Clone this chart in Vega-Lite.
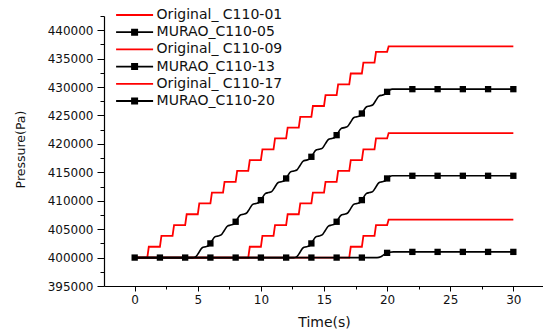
{
  "$schema": "https://vega.github.io/schema/vega-lite/v6.json",
  "width": 439,
  "height": 270,
  "autosize": "none",
  "padding": {"left": 104, "top": 16, "right": 0, "bottom": 45},
  "background": "white",
  "config": {
    "view": {"stroke": null},
    "font": "DejaVu Sans",
    "axis": {"labelFont": "DejaVu Sans", "titleFont": "DejaVu Sans", "labelColor": "#111", "titleColor": "#111", "domainColor": "#000", "tickColor": "#000", "grid": false, "labelFlush": false, "labelOverlap": false}
  },
  "datasets": {
    "lines": [
      {"s": "Original_ C110-01", "t": 0, "p": 400000}, {"s": "Original_ C110-01", "t": 1, "p": 400000}, {"s": "Original_ C110-01", "t": 1.12, "p": 401905}, {"s": "Original_ C110-01", "t": 2, "p": 401905}, {"s": "Original_ C110-01", "t": 2.12, "p": 403810}, {"s": "Original_ C110-01", "t": 3, "p": 403810}, {"s": "Original_ C110-01", "t": 3.12, "p": 405715}, {"s": "Original_ C110-01", "t": 4, "p": 405715}, {"s": "Original_ C110-01", "t": 4.12, "p": 407620}, {"s": "Original_ C110-01", "t": 5, "p": 407620}, {"s": "Original_ C110-01", "t": 5.12, "p": 409525}, {"s": "Original_ C110-01", "t": 6, "p": 409525}, {"s": "Original_ C110-01", "t": 6.12, "p": 411430}, {"s": "Original_ C110-01", "t": 7, "p": 411430}, {"s": "Original_ C110-01", "t": 7.12, "p": 413335}, {"s": "Original_ C110-01", "t": 8, "p": 413335}, {"s": "Original_ C110-01", "t": 8.12, "p": 415240}, {"s": "Original_ C110-01", "t": 9, "p": 415240}, {"s": "Original_ C110-01", "t": 9.12, "p": 417145}, {"s": "Original_ C110-01", "t": 10, "p": 417145}, {"s": "Original_ C110-01", "t": 10.12, "p": 419050}, {"s": "Original_ C110-01", "t": 11, "p": 419050}, {"s": "Original_ C110-01", "t": 11.12, "p": 420955}, {"s": "Original_ C110-01", "t": 12, "p": 420955}, {"s": "Original_ C110-01", "t": 12.12, "p": 422860}, {"s": "Original_ C110-01", "t": 13, "p": 422860}, {"s": "Original_ C110-01", "t": 13.12, "p": 424765}, {"s": "Original_ C110-01", "t": 14, "p": 424765}, {"s": "Original_ C110-01", "t": 14.12, "p": 426670}, {"s": "Original_ C110-01", "t": 15, "p": 426670}, {"s": "Original_ C110-01", "t": 15.12, "p": 428575}, {"s": "Original_ C110-01", "t": 16, "p": 428575}, {"s": "Original_ C110-01", "t": 16.12, "p": 430480}, {"s": "Original_ C110-01", "t": 17, "p": 430480}, {"s": "Original_ C110-01", "t": 17.12, "p": 432385}, {"s": "Original_ C110-01", "t": 18, "p": 432385}, {"s": "Original_ C110-01", "t": 18.12, "p": 434290}, {"s": "Original_ C110-01", "t": 19, "p": 434290}, {"s": "Original_ C110-01", "t": 19.12, "p": 436195}, {"s": "Original_ C110-01", "t": 20, "p": 436195}, {"s": "Original_ C110-01", "t": 20.12, "p": 437145}, {"s": "Original_ C110-01", "t": 30, "p": 437145},
      {"s": "Original_ C110-09", "t": 0, "p": 400000}, {"s": "Original_ C110-09", "t": 9, "p": 400000}, {"s": "Original_ C110-09", "t": 9.12, "p": 401905}, {"s": "Original_ C110-09", "t": 10, "p": 401905}, {"s": "Original_ C110-09", "t": 10.12, "p": 403810}, {"s": "Original_ C110-09", "t": 11, "p": 403810}, {"s": "Original_ C110-09", "t": 11.12, "p": 405715}, {"s": "Original_ C110-09", "t": 12, "p": 405715}, {"s": "Original_ C110-09", "t": 12.12, "p": 407620}, {"s": "Original_ C110-09", "t": 13, "p": 407620}, {"s": "Original_ C110-09", "t": 13.12, "p": 409525}, {"s": "Original_ C110-09", "t": 14, "p": 409525}, {"s": "Original_ C110-09", "t": 14.12, "p": 411430}, {"s": "Original_ C110-09", "t": 15, "p": 411430}, {"s": "Original_ C110-09", "t": 15.12, "p": 413335}, {"s": "Original_ C110-09", "t": 16, "p": 413335}, {"s": "Original_ C110-09", "t": 16.12, "p": 415240}, {"s": "Original_ C110-09", "t": 17, "p": 415240}, {"s": "Original_ C110-09", "t": 17.12, "p": 417145}, {"s": "Original_ C110-09", "t": 18, "p": 417145}, {"s": "Original_ C110-09", "t": 18.12, "p": 419050}, {"s": "Original_ C110-09", "t": 19, "p": 419050}, {"s": "Original_ C110-09", "t": 19.12, "p": 420955}, {"s": "Original_ C110-09", "t": 20, "p": 420955}, {"s": "Original_ C110-09", "t": 20.12, "p": 421905}, {"s": "Original_ C110-09", "t": 30, "p": 421905},
      {"s": "Original_ C110-17", "t": 0, "p": 400000}, {"s": "Original_ C110-17", "t": 17, "p": 400000}, {"s": "Original_ C110-17", "t": 17.12, "p": 401905}, {"s": "Original_ C110-17", "t": 18, "p": 401905}, {"s": "Original_ C110-17", "t": 18.12, "p": 403810}, {"s": "Original_ C110-17", "t": 19, "p": 403810}, {"s": "Original_ C110-17", "t": 19.12, "p": 405715}, {"s": "Original_ C110-17", "t": 20, "p": 405715}, {"s": "Original_ C110-17", "t": 20.12, "p": 406665}, {"s": "Original_ C110-17", "t": 30, "p": 406665},
      {"s": "MURAO_C110-05", "t": 0, "p": 400000}, {"s": "MURAO_C110-05", "t": 4.6, "p": 400000}, {"s": "MURAO_C110-05", "t": 4.85, "p": 400173}, {"s": "MURAO_C110-05", "t": 5.1, "p": 400953}, {"s": "MURAO_C110-05", "t": 5.35, "p": 401732},
      {"s": "MURAO_C110-05", "t": 5.6, "p": 401905}, {"s": "MURAO_C110-05", "t": 5.85, "p": 402078}, {"s": "MURAO_C110-05", "t": 6.1, "p": 402858}, {"s": "MURAO_C110-05", "t": 6.35, "p": 403637},
      {"s": "MURAO_C110-05", "t": 6.6, "p": 403810}, {"s": "MURAO_C110-05", "t": 6.85, "p": 403983}, {"s": "MURAO_C110-05", "t": 7.1, "p": 404763}, {"s": "MURAO_C110-05", "t": 7.35, "p": 405542},
      {"s": "MURAO_C110-05", "t": 7.6, "p": 405715}, {"s": "MURAO_C110-05", "t": 7.85, "p": 405888}, {"s": "MURAO_C110-05", "t": 8.1, "p": 406668}, {"s": "MURAO_C110-05", "t": 8.35, "p": 407447},
      {"s": "MURAO_C110-05", "t": 8.6, "p": 407620}, {"s": "MURAO_C110-05", "t": 8.85, "p": 407793}, {"s": "MURAO_C110-05", "t": 9.1, "p": 408573}, {"s": "MURAO_C110-05", "t": 9.35, "p": 409352},
      {"s": "MURAO_C110-05", "t": 9.6, "p": 409525}, {"s": "MURAO_C110-05", "t": 9.85, "p": 409698}, {"s": "MURAO_C110-05", "t": 10.1, "p": 410478}, {"s": "MURAO_C110-05", "t": 10.35, "p": 411257},
      {"s": "MURAO_C110-05", "t": 10.6, "p": 411430}, {"s": "MURAO_C110-05", "t": 10.85, "p": 411603}, {"s": "MURAO_C110-05", "t": 11.1, "p": 412383}, {"s": "MURAO_C110-05", "t": 11.35, "p": 413162},
      {"s": "MURAO_C110-05", "t": 11.6, "p": 413335}, {"s": "MURAO_C110-05", "t": 11.85, "p": 413508}, {"s": "MURAO_C110-05", "t": 12.1, "p": 414288}, {"s": "MURAO_C110-05", "t": 12.35, "p": 415067},
      {"s": "MURAO_C110-05", "t": 12.6, "p": 415240}, {"s": "MURAO_C110-05", "t": 12.85, "p": 415413}, {"s": "MURAO_C110-05", "t": 13.1, "p": 416193}, {"s": "MURAO_C110-05", "t": 13.35, "p": 416972},
      {"s": "MURAO_C110-05", "t": 13.6, "p": 417145}, {"s": "MURAO_C110-05", "t": 13.85, "p": 417318}, {"s": "MURAO_C110-05", "t": 14.1, "p": 418098}, {"s": "MURAO_C110-05", "t": 14.35, "p": 418877},
      {"s": "MURAO_C110-05", "t": 14.6, "p": 419050}, {"s": "MURAO_C110-05", "t": 14.85, "p": 419223}, {"s": "MURAO_C110-05", "t": 15.1, "p": 420003}, {"s": "MURAO_C110-05", "t": 15.35, "p": 420782},
      {"s": "MURAO_C110-05", "t": 15.6, "p": 420955}, {"s": "MURAO_C110-05", "t": 15.85, "p": 421128}, {"s": "MURAO_C110-05", "t": 16.1, "p": 421908}, {"s": "MURAO_C110-05", "t": 16.35, "p": 422687},
      {"s": "MURAO_C110-05", "t": 16.6, "p": 422860}, {"s": "MURAO_C110-05", "t": 16.85, "p": 423033}, {"s": "MURAO_C110-05", "t": 17.1, "p": 423813}, {"s": "MURAO_C110-05", "t": 17.35, "p": 424592},
      {"s": "MURAO_C110-05", "t": 17.6, "p": 424765}, {"s": "MURAO_C110-05", "t": 17.85, "p": 424938}, {"s": "MURAO_C110-05", "t": 18.1, "p": 425718}, {"s": "MURAO_C110-05", "t": 18.35, "p": 426497},
      {"s": "MURAO_C110-05", "t": 18.6, "p": 426670}, {"s": "MURAO_C110-05", "t": 18.85, "p": 426843}, {"s": "MURAO_C110-05", "t": 19.1, "p": 427623}, {"s": "MURAO_C110-05", "t": 19.35, "p": 428402},
      {"s": "MURAO_C110-05", "t": 19.6, "p": 428575}, {"s": "MURAO_C110-05", "t": 19.85, "p": 428748}, {"s": "MURAO_C110-05", "t": 20.0, "p": 429158}, {"s": "MURAO_C110-05", "t": 20.2, "p": 429480}, {"s": "MURAO_C110-05", "t": 20.4, "p": 429630}, {"s": "MURAO_C110-05", "t": 30, "p": 429630},
      {"s": "MURAO_C110-13", "t": 0, "p": 400000}, {"s": "MURAO_C110-13", "t": 12.6, "p": 400000}, {"s": "MURAO_C110-13", "t": 12.85, "p": 400173}, {"s": "MURAO_C110-13", "t": 13.1, "p": 400953}, {"s": "MURAO_C110-13", "t": 13.35, "p": 401732},
      {"s": "MURAO_C110-13", "t": 13.6, "p": 401905}, {"s": "MURAO_C110-13", "t": 13.85, "p": 402078}, {"s": "MURAO_C110-13", "t": 14.1, "p": 402858}, {"s": "MURAO_C110-13", "t": 14.35, "p": 403637},
      {"s": "MURAO_C110-13", "t": 14.6, "p": 403810}, {"s": "MURAO_C110-13", "t": 14.85, "p": 403983}, {"s": "MURAO_C110-13", "t": 15.1, "p": 404763}, {"s": "MURAO_C110-13", "t": 15.35, "p": 405542},
      {"s": "MURAO_C110-13", "t": 15.6, "p": 405715}, {"s": "MURAO_C110-13", "t": 15.85, "p": 405888}, {"s": "MURAO_C110-13", "t": 16.1, "p": 406668}, {"s": "MURAO_C110-13", "t": 16.35, "p": 407447},
      {"s": "MURAO_C110-13", "t": 16.6, "p": 407620}, {"s": "MURAO_C110-13", "t": 16.85, "p": 407793}, {"s": "MURAO_C110-13", "t": 17.1, "p": 408573}, {"s": "MURAO_C110-13", "t": 17.35, "p": 409352},
      {"s": "MURAO_C110-13", "t": 17.6, "p": 409525}, {"s": "MURAO_C110-13", "t": 17.85, "p": 409698}, {"s": "MURAO_C110-13", "t": 18.1, "p": 410478}, {"s": "MURAO_C110-13", "t": 18.35, "p": 411257},
      {"s": "MURAO_C110-13", "t": 18.6, "p": 411430}, {"s": "MURAO_C110-13", "t": 18.85, "p": 411603}, {"s": "MURAO_C110-13", "t": 19.1, "p": 412383}, {"s": "MURAO_C110-13", "t": 19.35, "p": 413162},
      {"s": "MURAO_C110-13", "t": 19.6, "p": 413335}, {"s": "MURAO_C110-13", "t": 19.85, "p": 413508}, {"s": "MURAO_C110-13", "t": 20.0, "p": 413919}, {"s": "MURAO_C110-13", "t": 20.2, "p": 414250}, {"s": "MURAO_C110-13", "t": 20.4, "p": 414390}, {"s": "MURAO_C110-13", "t": 30, "p": 414390},
      {"s": "MURAO_C110-20", "t": 0, "p": 400000}, {"s": "MURAO_C110-20", "t": 19.2, "p": 400000}, {"s": "MURAO_C110-20", "t": 19.5, "p": 400150}, {"s": "MURAO_C110-20", "t": 19.8, "p": 400600}, {"s": "MURAO_C110-20", "t": 20.0, "p": 400830}, {"s": "MURAO_C110-20", "t": 20.2, "p": 400950}, {"s": "MURAO_C110-20", "t": 20.5, "p": 401000}, {"s": "MURAO_C110-20", "t": 30, "p": 401000}
    ],
    "markers": [
      {"s": "MURAO_C110-20", "t": 0, "p": 400000}, {"s": "MURAO_C110-20", "t": 2, "p": 400000}, {"s": "MURAO_C110-20", "t": 4, "p": 400000}, {"s": "MURAO_C110-20", "t": 6, "p": 400000}, {"s": "MURAO_C110-20", "t": 8, "p": 400000}, {"s": "MURAO_C110-20", "t": 10, "p": 400000}, {"s": "MURAO_C110-20", "t": 12, "p": 400000}, {"s": "MURAO_C110-20", "t": 14, "p": 400000}, {"s": "MURAO_C110-20", "t": 16, "p": 400000}, {"s": "MURAO_C110-20", "t": 18, "p": 400000}, {"s": "MURAO_C110-20", "t": 20, "p": 400830}, {"s": "MURAO_C110-20", "t": 22, "p": 401000}, {"s": "MURAO_C110-20", "t": 24, "p": 401000}, {"s": "MURAO_C110-20", "t": 26, "p": 401000}, {"s": "MURAO_C110-20", "t": 28, "p": 401000}, {"s": "MURAO_C110-20", "t": 30, "p": 401000},
      {"s": "MURAO_C110-13", "t": 14, "p": 402489}, {"s": "MURAO_C110-13", "t": 16, "p": 406299}, {"s": "MURAO_C110-13", "t": 18, "p": 410109}, {"s": "MURAO_C110-13", "t": 20, "p": 413919}, {"s": "MURAO_C110-13", "t": 22, "p": 414390}, {"s": "MURAO_C110-13", "t": 24, "p": 414390}, {"s": "MURAO_C110-13", "t": 26, "p": 414390}, {"s": "MURAO_C110-13", "t": 28, "p": 414390}, {"s": "MURAO_C110-13", "t": 30, "p": 414390},
      {"s": "MURAO_C110-05", "t": 6, "p": 402489}, {"s": "MURAO_C110-05", "t": 8, "p": 406299}, {"s": "MURAO_C110-05", "t": 10, "p": 410109}, {"s": "MURAO_C110-05", "t": 12, "p": 413919}, {"s": "MURAO_C110-05", "t": 14, "p": 417729}, {"s": "MURAO_C110-05", "t": 16, "p": 421539}, {"s": "MURAO_C110-05", "t": 18, "p": 425349}, {"s": "MURAO_C110-05", "t": 20, "p": 429158}, {"s": "MURAO_C110-05", "t": 22, "p": 429630}, {"s": "MURAO_C110-05", "t": 24, "p": 429630}, {"s": "MURAO_C110-05", "t": 26, "p": 429630}, {"s": "MURAO_C110-05", "t": 28, "p": 429630}, {"s": "MURAO_C110-05", "t": 30, "p": 429630}
    ]
  },
  "layer": [
    {
      "data": {"name": "lines"},
      "transform": [{"filter": "indexof(datum.s, 'MURAO') < 0"}],
      "mark": {"type": "line", "strokeWidth": 1.8},
      "encoding": {
        "x": {"field": "t", "type": "quantitative", "scale": {"domain": [-2.43, 32.35], "nice": false, "zero": false},
          "axis": {"orient": "bottom", "values": [0, 5, 10, 15, 20, 25, 30], "tickSize": 5, "tickWidth": 1, "domainWidth": 1.2, "labelFontSize": 12, "labelPadding": 3, "title": "Time(s)", "titleFontSize": 14, "titleFontWeight": "normal", "titleX": 220, "titleY": 40, "titleAlign": "center", "titleBaseline": "alphabetic"}},
        "y": {"field": "p", "type": "quantitative", "scale": {"domain": [395000, 442500], "nice": false, "zero": false},
          "axis": {"orient": "left", "values": [395000, 400000, 405000, 410000, 415000, 420000, 425000, 430000, 435000, 440000], "format": "d", "tickSize": 7, "tickWidth": 1, "domainWidth": 1.2, "labelFontSize": 12, "labelPadding": 4, "title": "Pressure(Pa)", "titleFontSize": 12.5, "titleFontWeight": "normal", "titleX": -83.5, "titleY": 133, "titleAlign": "center", "titleBaseline": "middle", "titleAngle": 270}},
        "color": {"field": "s", "type": "nominal",
          "scale": {"domain": ["Original_ C110-01", "MURAO_C110-05", "Original_ C110-09", "MURAO_C110-13", "Original_ C110-17", "MURAO_C110-20"], "range": ["#ff0000", "#000000", "#ff0000", "#000000", "#ff0000", "#000000"]},
          "legend": {"orient": "none", "legendX": 23.6, "legendY": -8, "title": null, "padding": 0, "labelFont": "DejaVu Sans", "labelFontSize": 14, "labelColor": "#111", "labelOffset": 15, "rowPadding": 3.2, "symbolSize": 16, "symbolStrokeWidth": 1.8, "symbolOpacity": 1,
            "encode": {"symbols": {"update": {
              "shape": {"signal": "indexof(datum.value, 'MURAO') >= 0 ? 'M-9.25,0H9.25M-1.3,-1.3H1.3V1.3H-1.3Z' : 'M-9.25,0H9.25'"},
              "fill": {"signal": "indexof(datum.value, 'MURAO') >= 0 ? '#000000' : 'transparent'"}
            }}}}
        }
      }
    },
    {
      "data": {"name": "lines"},
      "transform": [{"filter": "indexof(datum.s, 'MURAO') >= 0"}],
      "mark": {"type": "line", "strokeWidth": 1.6, "interpolate": "monotone"},
      "encoding": {
        "x": {"field": "t", "type": "quantitative", "scale": {"domain": [-2.43, 32.35], "nice": false, "zero": false}, "axis": null},
        "y": {"field": "p", "type": "quantitative", "scale": {"domain": [395000, 442500], "nice": false, "zero": false}, "axis": null},
        "color": {"field": "s", "type": "nominal",
          "scale": {"domain": ["Original_ C110-01", "MURAO_C110-05", "Original_ C110-09", "MURAO_C110-13", "Original_ C110-17", "MURAO_C110-20"], "range": ["#ff0000", "#000000", "#ff0000", "#000000", "#ff0000", "#000000"]},
          "legend": {"orient": "none", "legendX": 23.6, "legendY": -8, "title": null, "padding": 0, "labelFont": "DejaVu Sans", "labelFontSize": 14, "labelColor": "#111", "labelOffset": 15, "rowPadding": 3.2, "symbolSize": 16, "symbolStrokeWidth": 1.8, "symbolOpacity": 1,
            "encode": {"symbols": {"update": {
              "shape": {"signal": "indexof(datum.value, 'MURAO') >= 0 ? 'M-9.25,0H9.25M-1.3,-1.3H1.3V1.3H-1.3Z' : 'M-9.25,0H9.25'"},
              "fill": {"signal": "indexof(datum.value, 'MURAO') >= 0 ? '#000000' : 'transparent'"}
            }}}}
        }
      }
    },
    {
      "data": {"name": "markers"},
      "mark": {"type": "point", "shape": "square", "filled": true, "size": 40, "color": "#000000", "opacity": 1},
      "encoding": {
        "x": {"field": "t", "type": "quantitative", "scale": {"domain": [-2.43, 32.35], "nice": false, "zero": false},
          "axis": {"orient": "bottom", "values": [2.5, 7.5, 12.5, 17.5, 22.5, 27.5], "tickSize": 3, "tickWidth": 1, "labels": false, "domain": false, "title": null}},
        "y": {"field": "p", "type": "quantitative", "scale": {"domain": [395000, 442500], "nice": false, "zero": false},
          "axis": {"orient": "left", "values": [397500, 402500, 407500, 412500, 417500, 422500, 427500, 432500, 437500, 442500], "tickSize": 4, "tickWidth": 1, "labels": false, "domain": false, "title": null}}
      }
    }
  ],
  "resolve": {"axis": {"x": "independent", "y": "independent"}}
}
